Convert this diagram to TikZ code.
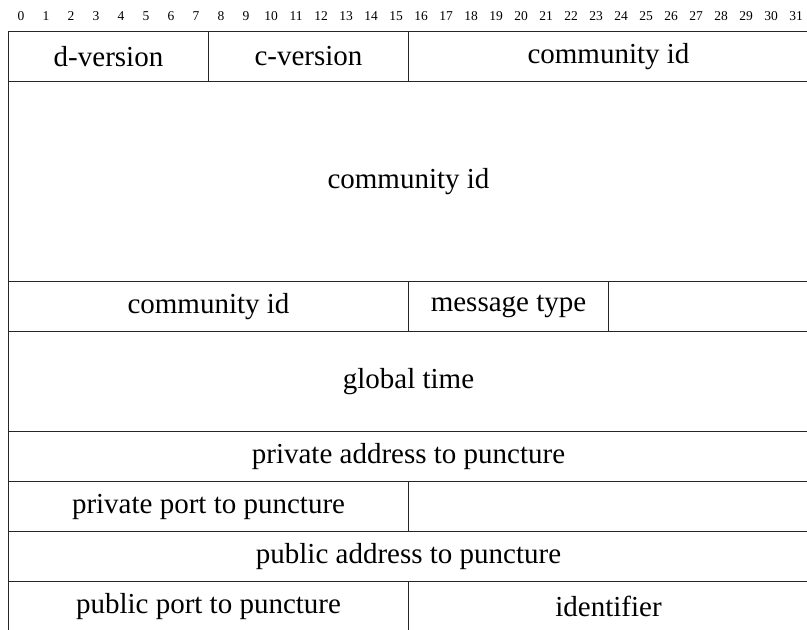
\documentclass[tikz,border=0pt]{standalone}
\usepackage{fontspec}
\setmainfont{Liberation Serif}
\begin{document}
\begin{tikzpicture}[x=1pt,y=1pt,
  field/.style={draw=black!85, line width=1.1pt, inner sep=0pt, outer sep=0pt,
    font=\fontsize{29}{34}\selectfont},
  bitnum/.style={inner sep=0pt, anchor=base, font=\fontsize{13.5}{15}\selectfont}]
\useasboundingbox (0,0) rectangle (807,-630);
% bit numbers
\foreach \i in {0,...,31} {
  \node[bitnum] (b\i) at ({21+25*\i},-20.5) {\i};
}
% row 0
\node[field, minimum width=200pt, minimum height=50pt] (dver) at (108.5,-56.5) {d-version};
\node[field, minimum width=200pt, minimum height=50pt] (cver) at (308.5,-56.5) {c-version};
\node[field, minimum width=400pt, minimum height=50pt] (cid1) at (608.5,-56.5) {community id};
% rows 1-4
\node[field, minimum width=800pt, minimum height=200pt] (cid2) at (408.5,-181.5) {community id};
% row 5
\node[field, minimum width=400pt, minimum height=50pt] (cid3) at (208.5,-306.5) {community id};
\node[field, minimum width=200pt, minimum height=50pt] (mtype) at (508.5,-306.5) {message type};
\node[field, minimum width=200pt, minimum height=50pt] (pad1) at (708.5,-306.5) {};
% rows 6-7
\node[field, minimum width=800pt, minimum height=100pt] (gtime) at (408.5,-381.5) {global time};
% row 8
\node[field, minimum width=800pt, minimum height=50pt] (privaddr) at (408.5,-456.5) {private address to puncture};
% row 9
\node[field, minimum width=400pt, minimum height=50pt] (privport) at (208.5,-506.5) {private port to puncture};
\node[field, minimum width=400pt, minimum height=50pt] (pad2) at (608.5,-506.5) {};
% row 10
\node[field, minimum width=800pt, minimum height=50pt] (pubaddr) at (408.5,-556.5) {public address to puncture};
% row 11
\node[field, minimum width=400pt, minimum height=50pt] (pubport) at (208.5,-606.5) {public port to puncture};
\node[field, minimum width=400pt, minimum height=50pt] (ident) at (608.5,-606.5) {identifier};
\end{tikzpicture}
\end{document}
